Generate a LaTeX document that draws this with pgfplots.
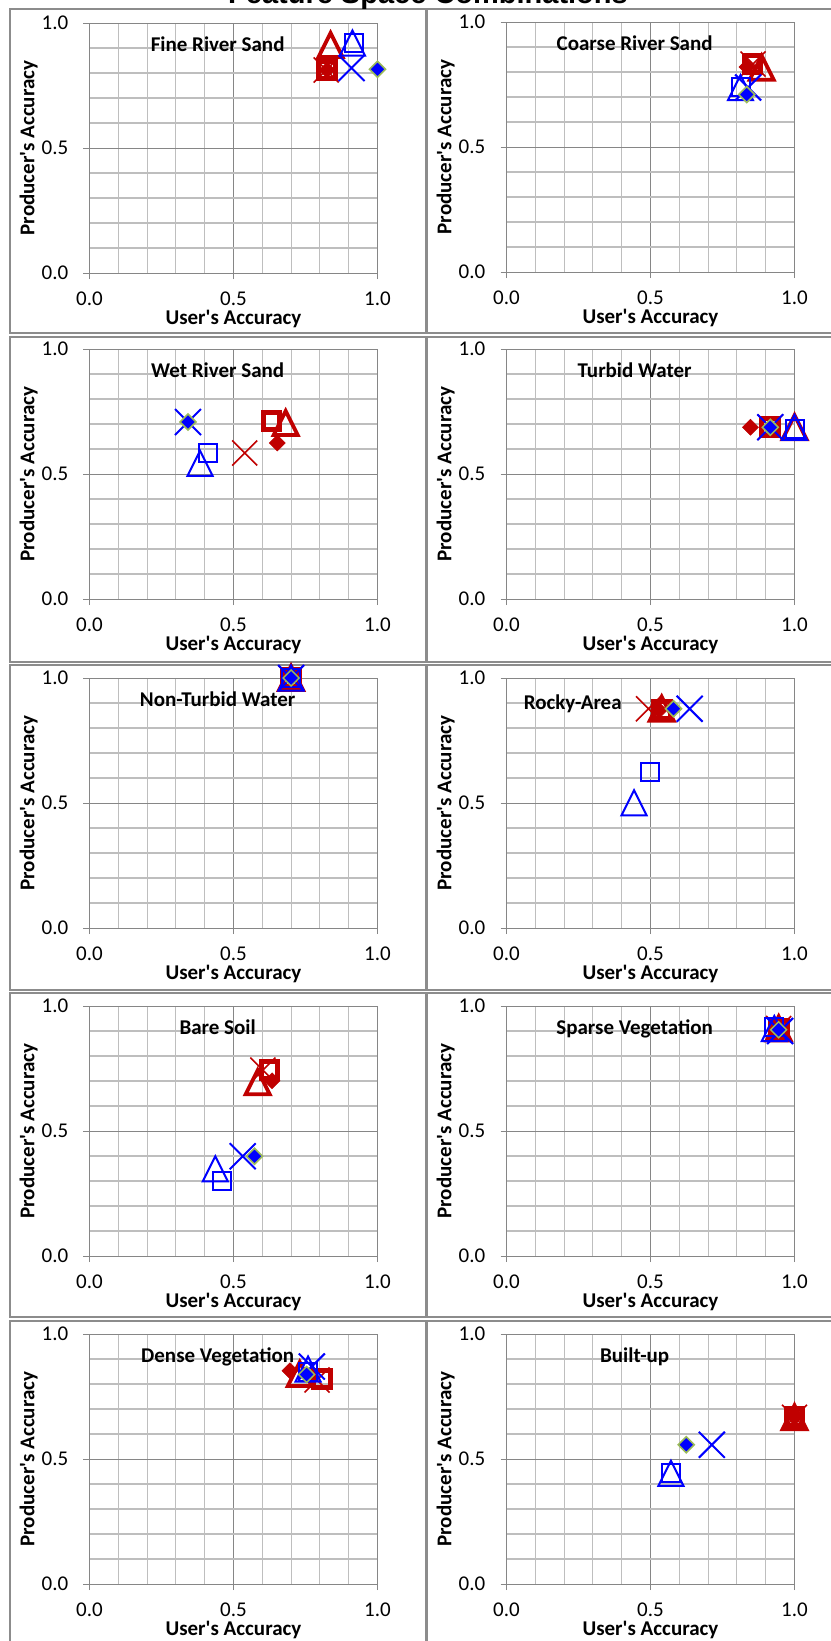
\documentclass[border=0pt]{standalone}
\usepackage{pgfplots}
\usepackage{pgfplotstable}
\pgfplotsset{compat=1.18}
\usepackage{fontspec}
\setmainfont{Carlito}
\newfontfamily\arialfont{Liberation Sans}
\definecolor{xred}{HTML}{C00000}
\definecolor{xblue}{HTML}{0000FF}
\definecolor{xgreen}{HTML}{9BBB59}
\definecolor{gmaj}{HTML}{868686}
\definecolor{gmin}{HTML}{BEBEBE}
\definecolor{gbox}{HTML}{8C8C8C}

\pgfdeclareplotmark{xtri}{%
 \pgfpathmoveto{\pgfqpoint{0pt}{\pgfplotmarksize}}%
 \pgfpathlineto{\pgfqpoint{\pgfplotmarksize}{-\pgfplotmarksize}}%
 \pgfpathlineto{\pgfqpoint{-\pgfplotmarksize}{-\pgfplotmarksize}}%
 \pgfpathclose\pgfusepath{stroke}}
\pgfdeclareplotmark{xsq}{%
 \pgfpathrectangle{\pgfqpoint{-\pgfplotmarksize}{-\pgfplotmarksize}}{\pgfqpoint{2\pgfplotmarksize}{2\pgfplotmarksize}}%
 \pgfusepath{stroke}}
\pgfdeclareplotmark{xcross}{%
 \pgfpathmoveto{\pgfqpoint{-\pgfplotmarksize}{-\pgfplotmarksize}}%
 \pgfpathlineto{\pgfqpoint{\pgfplotmarksize}{\pgfplotmarksize}}%
 \pgfpathmoveto{\pgfqpoint{-\pgfplotmarksize}{\pgfplotmarksize}}%
 \pgfpathlineto{\pgfqpoint{\pgfplotmarksize}{-\pgfplotmarksize}}%
 \pgfusepath{stroke}}
\pgfdeclareplotmark{xdia}{%
 \pgfpathmoveto{\pgfqpoint{0pt}{\pgfplotmarksize}}%
 \pgfpathlineto{\pgfqpoint{\pgfplotmarksize}{0pt}}%
 \pgfpathlineto{\pgfqpoint{0pt}{-\pgfplotmarksize}}%
 \pgfpathlineto{\pgfqpoint{-\pgfplotmarksize}{0pt}}%
 \pgfpathclose\pgfusepath{fill,stroke}}

% series codes: rt/rs/rx/rd = red triangle/square/cross/diamond; bt/bs/bx/bd = blue
\pgfplotstableread{
x y s
0.837 0.912 rt
0.825 0.812 rs
0.822 0.812 rx
0.825 0.812 rd
0.913 0.920 bt
0.918 0.920 bs
0.910 0.820 bx
1.000 0.815 bd
}\tFine
\pgfplotstableread{
x y s
0.886 0.817 rt
0.854 0.832 rs
0.856 0.832 rx
0.835 0.820 rd
0.8125 0.738 bt
0.8125 0.742 bs
0.839 0.738 bx
0.834 0.710 bd
}\tCoarse
\pgfplotstableread{
x y s
0.681 0.704 rt
0.632 0.711 rs
0.539 0.584 rx
0.652 0.624 rd
0.384 0.543 bt
0.411 0.584 bs
0.342 0.708 bx
0.342 0.708 bd
}\tWet
\pgfplotstableread{
x y s
1.000 0.687 rt
0.916 0.687 rs
0.916 0.687 rx
0.847 0.687 rd
1.000 0.687 bt
1.000 0.681 bs
0.916 0.687 bx
0.916 0.687 bd
}\tTurbid
\pgfplotstableread{
x y s
0.700 1.000 rt
0.700 1.000 rs
0.700 1.000 rx
0.700 1.000 rd
0.700 1.000 bt
0.700 1.000 bs
0.700 1.000 bx
0.700 1.000 bd
}\tNonTurbid
\pgfplotstableread{
x y s
0.539 0.877 rt
0.539 0.871 rs
0.493 0.877 rx
0.530 0.871 rd
0.443 0.501 bt
0.499 0.624 bs
0.636 0.877 bx
0.580 0.877 bd
}\tRocky
\pgfplotstableread{
x y s
0.584 0.695 rt
0.625 0.744 rs
0.602 0.744 rx
0.634 0.701 rd
0.437 0.349 bt
0.460 0.299 bs
0.532 0.399 bx
0.573 0.399 bd
}\tBare
\pgfplotstableread{
x y s
0.945 0.910 rt
0.945 0.910 rs
0.945 0.910 rx
0.945 0.910 rd
0.930 0.910 bt
0.930 0.915 bs
0.950 0.900 bx
0.945 0.905 bd
}\tSparse
\pgfplotstableread{
x y s
0.730 0.840 rt
0.807 0.820 rs
0.790 0.816 rx
0.696 0.853 rd
0.759 0.860 bt
0.760 0.849 bs
0.772 0.870 bx
0.754 0.838 bd
}\tDense
\pgfplotstableread{
x y s
1.000 0.667 rt
1.000 0.667 rs
1.000 0.667 rx
1.000 0.667 rd
0.571 0.443 bt
0.571 0.443 bs
0.713 0.557 bx
0.624 0.557 bd
}\tBuilt

\pgfplotsset{
 panel/.style={
  scale only axis, width=288pt, height=250pt,
  anchor=south west,
  xmin=0, xmax=1, ymin=0, ymax=1,
  xtick={0,0.5,1}, ytick={0,0.5,1},
  xticklabels={0.0,0.5,1.0}, yticklabels={0.0,0.5,1.0},
  minor tick num=4, grid=both,
  major grid style={draw=gmaj, line width=1pt},
  minor grid style={draw=gmin, line width=1.1pt},
  axis line style={draw=gmaj, line width=1pt},
  tick align=outside, tick pos=left,
  major tick length=6pt, minor tick length=0pt,
  major tick style={draw=gmaj, line width=1pt},
  tick label style={font=\fontsize{21}{25}\selectfont},
  xticklabel style={inner sep=0pt, anchor=north, yshift=-13pt},
  yticklabel style={inner sep=0pt, anchor=east, xshift=-15pt},
  label style={font=\bfseries\fontsize{21}{25}\selectfont},
  xlabel={User\textquotesingle s Accuracy}, ylabel={Producer\textquotesingle s Accuracy},
  xlabel style={at={(axis description cs:0.5,-0.204)}, anchor=base},
  ylabel style={at={(axis description cs:-0.191,0.5)}, anchor=base},
  title style={font=\bfseries\fontsize{21}{25}\selectfont, at={(axis description cs:0.445,0.863)}, anchor=base, inner sep=0pt},
  clip=false,
 },
 pts/.style={
  only marks, scatter, point meta=explicit symbolic,
  scatter/classes={
   rt={mark=xtri, mark size=12pt, draw=xred, line width=3.8pt},
   rs={mark=xsq, mark size=8.4pt, draw=xred, line width=5pt},
   rx={mark=xcross, mark size=12.5pt, draw=xred, line width=1.6pt},
   rd={mark=xdia, mark size=8pt, draw=xred, fill=xred, line width=0.5pt},
   bt={mark=xtri, mark size=12.5pt, draw=xblue, line width=2pt},
   bs={mark=xsq, mark size=9pt, draw=xblue, line width=2pt},
   bx={mark=xcross, mark size=13pt, draw=xblue, line width=2pt},
   bd={mark=xdia, mark size=8pt, draw=xgreen, fill=xblue, line width=1.5pt}}
 }
}

\begin{document}
\begin{tikzpicture}
\useasboundingbox (0pt,0pt) rectangle (830pt,-1641pt);
% panel frames
\foreach \t/\b in {9/333,337/662,665/990,993/1317,1321/1645}{
 \draw[gbox, line width=1.2pt] (10pt,-\t pt) rectangle (427pt,-\b pt);
 \draw[gbox, line width=1.2pt] (426pt,-\t pt) rectangle (836pt,-\b pt);
}
\node[overlay, anchor=base, inner sep=0pt, font=\arialfont\bfseries\fontsize{29}{32}\selectfont] at (428pt,-3.5pt) {Feature Space Combinations};

\begin{axis}[panel, at={(89.5pt,-273pt)}, title={Fine River Sand}]
\addplot[pts] table[x=x, y=y, meta=s] {\tFine};
\end{axis}
\begin{axis}[panel, at={(506.5pt,-272pt)}, title={Coarse River Sand}]
\addplot[pts] table[x=x, y=y, meta=s] {\tCoarse};
\end{axis}

\begin{axis}[panel, at={(89.5pt,-599pt)}, title={Wet River Sand}]
\addplot[pts] table[x=x, y=y, meta=s] {\tWet};
\end{axis}
\begin{axis}[panel, at={(506.5pt,-599pt)}, title={Turbid Water}]
\addplot[pts] table[x=x, y=y, meta=s] {\tTurbid};
\end{axis}

\begin{axis}[panel, at={(89.5pt,-928pt)}, title={Non-Turbid Water}]
\addplot[pts] table[x=x, y=y, meta=s] {\tNonTurbid};
\end{axis}
\begin{axis}[panel, at={(506.5pt,-928pt)}, title={Rocky-Area},
  title style={at={(axis description cs:0.23,0.851)}}]
\addplot[pts] table[x=x, y=y, meta=s] {\tRocky};
\end{axis}

\begin{axis}[panel, at={(89.5pt,-1256pt)}, title={Bare Soil}]
\addplot[pts] table[x=x, y=y, meta=s] {\tBare};
\end{axis}
\begin{axis}[panel, at={(506.5pt,-1256pt)}, title={Sparse Vegetation}]
\addplot[pts] table[x=x, y=y, meta=s] {\tSparse};
\end{axis}

\begin{axis}[panel, at={(89.5pt,-1584pt)}, title={Dense Vegetation}]
\addplot[pts] table[x=x, y=y, meta=s] {\tDense};
\end{axis}
\begin{axis}[panel, at={(506.5pt,-1584pt)}, title={Built-up}]
\addplot[pts] table[x=x, y=y, meta=s] {\tBuilt};
\end{axis}
\end{tikzpicture}
\end{document}
